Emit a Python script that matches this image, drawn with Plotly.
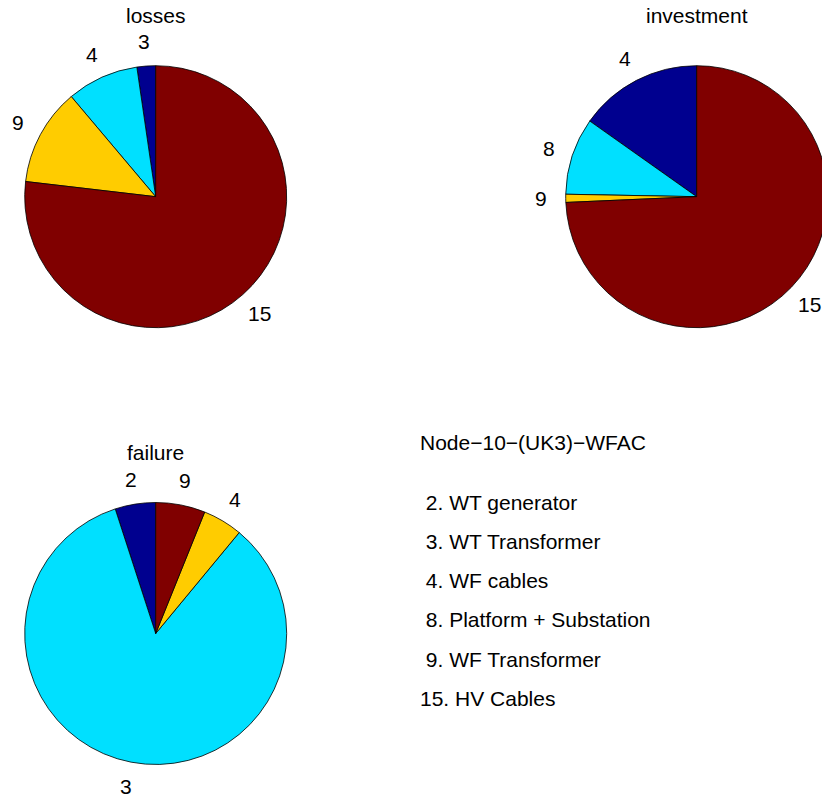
import math
import plotly.graph_objects as go

# ---- data (percent shares) ----
losses_labels = ["3", "4", "9", "15"]
losses_values = [2.3, 8.85, 12.0, 76.85]

investment_labels = ["4", "8", "9", "15"]
investment_values = [15.2, 9.5, 1.0, 74.3]

failure_labels = ["2", "3", "4", "9"]
failure_values = [5.0, 84.0, 4.9, 6.1]

titles = ["losses", "investment", "failure"]
legend_title = "Node\u221210\u2212(UK3)\u2212WFAC"
legend_items = ["\u00a02. WT generator", "\u00a03. WT Transformer", "\u00a04. WF cables",
                "\u00a08. Platform + Substation", "\u00a09. WF Transformer", "15. HV Cables"]

slice_colors = ["#00008F", "#00E0FF", "#FFCC00", "#800000"]

# ---- layout (page body has an 8px margin, so positions are shifted by it) ----
OFF = 8
W, H = 830 - OFF, 800 - OFF
R = 131
FONT = dict(family="Liberation Sans, Arial, sans-serif", size=21, color="black")
pies = [
    (losses_labels, losses_values, 155.7 - OFF, 196.7 - OFF),
    (investment_labels, investment_values, 696.7 - OFF, 196.7 - OFF),
    (failure_labels, failure_values, 155.7 - OFF, 633.5 - OFF),
]


def px(x, y):
    return x / W, 1 - y / H


fig = go.Figure()
annotations = []
for (labels, values, cx, cy), title in zip(pies, titles):
    total = sum(values)
    fig.add_trace(go.Pie(
        labels=labels, values=values, sort=False, direction="counterclockwise",
        rotation=-360.0 * values[0] / total, textinfo="none",
        hoverinfo="label+percent", showlegend=False,
        marker=dict(colors=slice_colors, line=dict(color="black", width=0.8)),
        domain=dict(x=[(cx - R) / W, (cx + R) / W], y=[1 - (cy + R) / H, 1 - (cy - R) / H]),
    ))
    cum = 0.0
    for lab, v in zip(labels, values):
        theta = 2 * math.pi * (cum + v / 2) / total
        cum += v
        rr = 1.19 * R
        ax, ay = px(cx - rr * math.sin(theta), cy - rr * math.cos(theta))
        annotations.append(dict(x=ax, y=ay, xref="paper", yref="paper",
                                text=lab, showarrow=False, xanchor="center",
                                yanchor="middle", font=FONT))
    tx, ty = px(cx, cy - R - 50)
    annotations.append(dict(x=tx, y=ty, xref="paper", yref="paper",
                            text=title, showarrow=False, xanchor="center",
                            yanchor="middle", font=FONT))

lx, ly = px(418 - OFF, 443 - OFF)
annotations.append(dict(x=lx, y=ly, xref="paper", yref="paper",
                        text=legend_title, showarrow=False, xanchor="left",
                        yanchor="middle", font=FONT))
for i, item in enumerate(legend_items):
    ix, iy = px(418 - OFF, 502 + 39.3 * i - OFF)
    annotations.append(dict(x=ix, y=iy, xref="paper", yref="paper",
                            text=item, showarrow=False, xanchor="left",
                            yanchor="middle", font=FONT))

fig.update_layout(
    width=W, height=H, margin=dict(l=0, r=0, t=0, b=0),
    paper_bgcolor="white", plot_bgcolor="white",
    annotations=annotations, font=FONT,
)
fig.write_html("out.html")
